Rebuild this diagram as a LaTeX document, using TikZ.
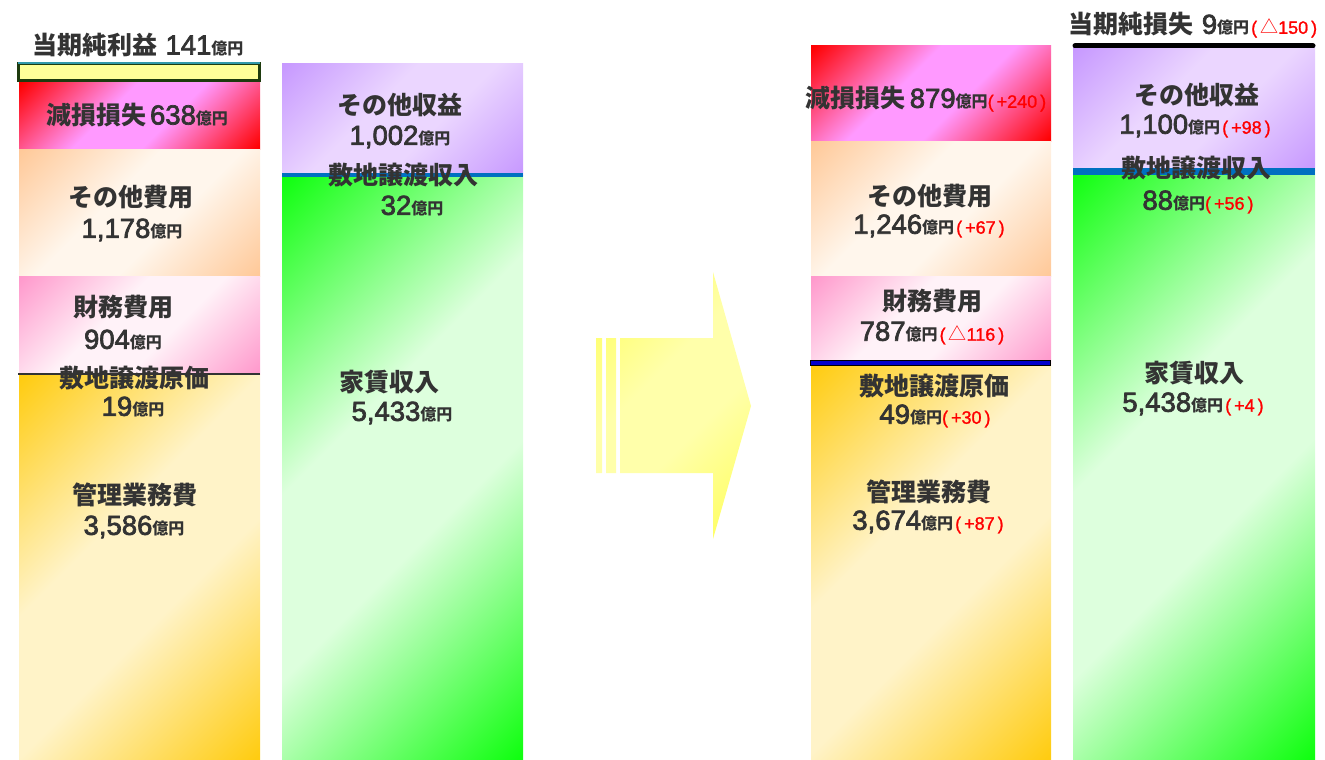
\documentclass[tikz,border=0pt]{standalone}
\usepackage{fontspec}
\setmainfont{Noto Sans CJK JP}
\newfontfamily\arialfont{Liberation Sans}[FakeBold=2.5]
\newfontfamily\redfont{Liberation Sans}[FakeBold=1.2]
\definecolor{txt}{HTML}{333333}
\definecolor{cRed}{HTML}{FF0000}\definecolor{mRed}{HTML}{FF99FF}
\definecolor{cPea}{HTML}{FFC999}\definecolor{mPea}{HTML}{FFF6EC}
\definecolor{cPnk}{HTML}{FF99CC}\definecolor{mPnk}{HTML}{FFF2F8}
\definecolor{cGld}{HTML}{FFCC11}\definecolor{mGld}{HTML}{FFF3C8}
\definecolor{cPur}{HTML}{C799FF}\definecolor{mPur}{HTML}{EBD6FF}
\definecolor{cGrn}{HTML}{11FF11}\definecolor{mGrn}{HTML}{DDFFDD}
\definecolor{cYel}{HTML}{FFFF55}\definecolor{mYel}{HTML}{FFFFAA}
\definecolor{revblue}{HTML}{0070C0}
\definecolor{expblue}{HTML}{0000CC}
\definecolor{netgreen}{HTML}{1E3B0E}
\definecolor{netteal}{HTML}{3399AA}
\definecolor{netfill}{HTML}{FFFF99}
\newcommand\mkshade[3]{\pgfdeclarehorizontalshading{#1}{100bp}{color(0bp)=(#2);color(15bp)=(#2);color(42bp)=(#3);color(58bp)=(#3);color(85bp)=(#2);color(100bp)=(#2)}}
\mkshade{gRed}{cRed}{mRed}
\mkshade{gPea}{cPea}{mPea}
\mkshade{gPnk}{cPnk}{mPnk}
\mkshade{gGld}{cGld}{mGld}
\mkshade{gPur}{cPur}{mPur}
\mkshade{gGrn}{cGrn}{mGrn}
\mkshade{gYel}{cYel}{mYel}
\newcommand\bnum[1]{{\arialfont\mdseries\fontsize{27.5}{29}\selectfont #1}}
\newcommand\oku{{\fontsize{16}{18}\selectfont 億円}}
\newcommand\dif[1]{{\color{red}\redfont\mdseries\fontsize{18}{20}\selectfont (\hspace{3pt}#1\hspace{3pt})}}
\newcommand\tri{{\rmfamily\mdseries △}}
\tikzset{
  blk/.style={shading=#1, shading angle=-45},
  lbl/.style={text=txt, font=\bfseries\fontsize{25}{27}\selectfont, inner sep=0pt, anchor=center},
}
\begin{document}
\begin{tikzpicture}[x=1pt,y=1pt]
\useasboundingbox (0,0) rectangle (1325,-760);
% ---------- before: expenses ----------
\shade[blk=gRed] (19,-82) rectangle (260,-149);
\shade[blk=gPea] (19,-149) rectangle (260,-276);
\shade[blk=gPnk] (19,-276) rectangle (260,-374);
\shade[blk=gGld] (19,-374) rectangle (260,-760);
\draw[txt, line width=2pt] (18,-374) -- (260,-374);
\draw[netgreen, line width=3pt, fill=netfill] (18.5,-63.5) rectangle (259.5,-80.5);
\draw[netteal, line width=1.5pt] (18,-63) -- (260,-63);
% ---------- before: revenues ----------
\shade[blk=gPur] (282,-64) rectangle (523,-175);
\shade[blk=gGrn] (282,-175) rectangle (523,-760);
\draw[revblue, line width=3.5pt] (282,-175) -- (523,-175);
% ---------- arrow ----------
\shade[blk=gYel] (596,-338) rectangle (602,-473)
  (606,-338) rectangle (616,-473)
  (620,-338) -- (713,-338) -- (713,-272) -- (751,-406) -- (713,-539) -- (713,-473) -- (620,-473) -- cycle;
% ---------- after: expenses ----------
\shade[blk=gRed] (811,-46) rectangle (1051,-141);
\shade[blk=gPea] (811,-141) rectangle (1051,-276);
\shade[blk=gPnk] (811,-276) rectangle (1051,-363);
\shade[blk=gGld] (811,-363) rectangle (1051,-760);
\draw[black, line width=6pt] (810,-363) -- (1051,-363);
\draw[expblue, line width=3.5pt] (811,-363) -- (1050,-363);
% ---------- after: revenues ----------
\shade[blk=gPur] (1073,-48) rectangle (1315,-170);
\shade[blk=gGrn] (1073,-170) rectangle (1315,-760);
\draw[revblue, line width=7pt] (1073,-171) -- (1315,-171);
\draw[black, line width=5pt, line cap=round] (1075,-46) -- (1313,-46);
% ---------- before: texts ----------
\node[lbl] (netA) at (138,-45) {当期純利益\hspace{8pt}\bnum{141}\oku};
\node[lbl] (impA) at (137,-115) {減損損失\hspace{4pt}\bnum{638}\oku};
\node[lbl] (othA) at (131,-197) {その他費用};
\node[lbl] (othAv) at (132,-230) {\bnum{1,178}\oku};
\node[lbl] (finA) at (123,-307) {財務費用};
\node[lbl] (finAv) at (123,-340) {\bnum{904}\oku};
\node[lbl] (lcA) at (134,-378) {敷地譲渡原価};
\node[lbl] (lcAv) at (133,-407) {\bnum{19}\oku};
\node[lbl] (mgA) at (135,-495) {管理業務費};
\node[lbl] (mgAv) at (134,-527) {\bnum{3,586}\oku};
\node[lbl] (orA) at (400,-105) {その他収益};
\node[lbl] (orAv) at (400,-137) {\bnum{1,002}\oku};
\node[lbl] (lsA) at (403,-175) {敷地譲渡収入};
\node[lbl] (lsAv) at (412,-206) {\bnum{32}\oku};
\node[lbl] (rnA) at (389,-382) {家賃収入};
\node[lbl] (rnAv) at (402,-413) {\bnum{5,433}\oku};
% ---------- after: texts ----------
\node[lbl] (netB) at (1193,-25) {当期純損失\hspace{8pt}\bnum{9}\oku\hspace{2pt}\dif{\tri150}};
\node[lbl] (impB) at (926,-99) {減損損失\hspace{4pt}\bnum{879}\oku\dif{+240}};
\node[lbl] (othB) at (930,-196) {その他費用};
\node[lbl] (othBv) at (929,-226) {\bnum{1,246}\oku\hspace{2pt}\dif{+67}};
\node[lbl] (finB) at (932,-301) {財務費用};
\node[lbl] (finBv) at (932,-333) {\bnum{787}\oku\hspace{2pt}\dif{\tri116}};
\node[lbl] (lcB) at (934,-386) {敷地譲渡原価};
\node[lbl] (lcBv) at (935,-416) {\bnum{49}\oku\dif{+30}};
\node[lbl] (mgB) at (929,-492) {管理業務費};
\node[lbl] (mgBv) at (928,-522) {\bnum{3,674}\oku\hspace{2pt}\dif{+87}};
\node[lbl] (orB) at (1197,-95) {その他収益};
\node[lbl] (orBv) at (1195,-126) {\bnum{1,100}\oku\hspace{2pt}\dif{+98}};
\node[lbl] (lsB) at (1196,-168) {敷地譲渡収入};
\node[lbl] (lsBv) at (1198,-202) {\bnum{88}\oku\dif{+56}};
\node[lbl] (rnB) at (1194,-373) {家賃収入};
\node[lbl] (rnBv) at (1193,-404) {\bnum{5,438}\oku\hspace{2pt}\dif{+4}};
\end{tikzpicture}
\end{document}
